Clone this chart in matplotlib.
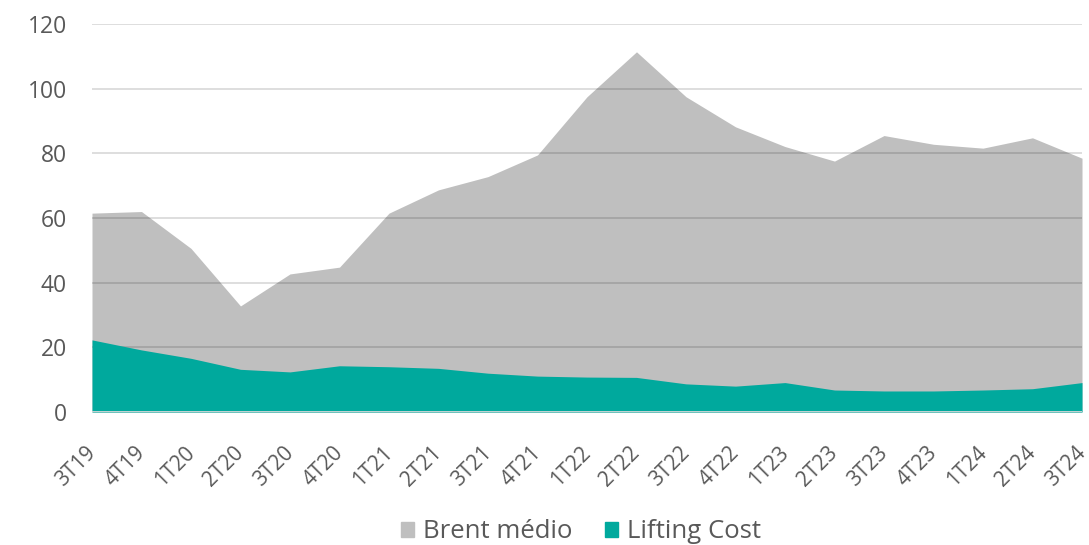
import matplotlib
matplotlib.use("Agg")
import matplotlib.pyplot as plt
import matplotlib.transforms as mtransforms
from matplotlib.patches import Patch

quarters = ["3T19", "4T19", "1T20", "2T20", "3T20", "4T20", "1T21", "2T21", "3T21", "4T21",
            "1T22", "2T22", "3T22", "4T22", "1T23", "2T23", "3T23", "4T23", "1T24", "2T24", "3T24"]
brent = [61.5, 62.0, 50.6, 32.8, 42.7, 44.8, 61.5, 68.7, 72.8, 79.5,
         97.5, 111.4, 97.5, 88.2, 82.1, 77.6, 85.5, 82.8, 81.6, 84.8, 78.5]
lifting = [22.3, 19.2, 16.6, 13.2, 12.4, 14.3, 14.0, 13.5, 12.0, 11.1,
           10.8, 10.7, 8.7, 8.0, 9.1, 6.8, 6.5, 6.5, 6.8, 7.2, 9.1]
yticks = [0, 20, 40, 60, 80, 100, 120]

plt.rcParams['font.family'] = ['Open Sans', 'DejaVu Sans']
text_color = "#595959"
grey = "#bfbfbf"
teal = "#00a99d"

fig = plt.figure(figsize=(10.89, 5.45), dpi=100)
ax = fig.add_axes([92/1089, 1-412/545, (1082-92)/1089, (412-24)/545])

x = list(range(len(quarters)))
ax.fill_between(x, 0, brent, color=grey, linewidth=0, zorder=1)
ax.fill_between(x, 0, lifting, color=teal, linewidth=0, zorder=3)
for t in yticks[1:]:
    ax.axhline(t, color=(0, 0, 0, 0.14), linewidth=1.3, zorder=2)
ax.axhline(0, color="#d9d9d9", linewidth=2, zorder=4)

ax.set_xlim(0, len(quarters) - 1)
ax.set_ylim(0, 120)
ax.set_yticks(yticks)
ax.set_yticklabels([str(t) for t in yticks], fontsize=16.5, color=text_color)
ax.set_xticks(x)
ax.set_xticklabels(quarters, fontsize=15, color=text_color, rotation=45,
                   ha="right", rotation_mode="anchor")
ax.tick_params(axis="both", length=0)
ax.tick_params(axis="y", pad=18)
ax.tick_params(axis="x", pad=22)
shift = mtransforms.ScaledTranslation(-7/100, 0, fig.dpi_scale_trans)
for lbl in ax.get_xticklabels():
    lbl.set_transform(lbl.get_transform() + shift)
for s in ax.spines.values():
    s.set_visible(False)

handles = [Patch(color=grey, label="Brent médio"), Patch(color=teal, label="Lifting Cost")]
fig.legend(handles=handles, loc="center", bbox_to_anchor=(581/1089, 1-532/545), ncol=2,
           frameon=False, fontsize=18.5, handlelength=0.5, handleheight=0.5,
           handletextpad=0.35, columnspacing=1.3, labelcolor=text_color)

fig.savefig("out.png", dpi=100)
